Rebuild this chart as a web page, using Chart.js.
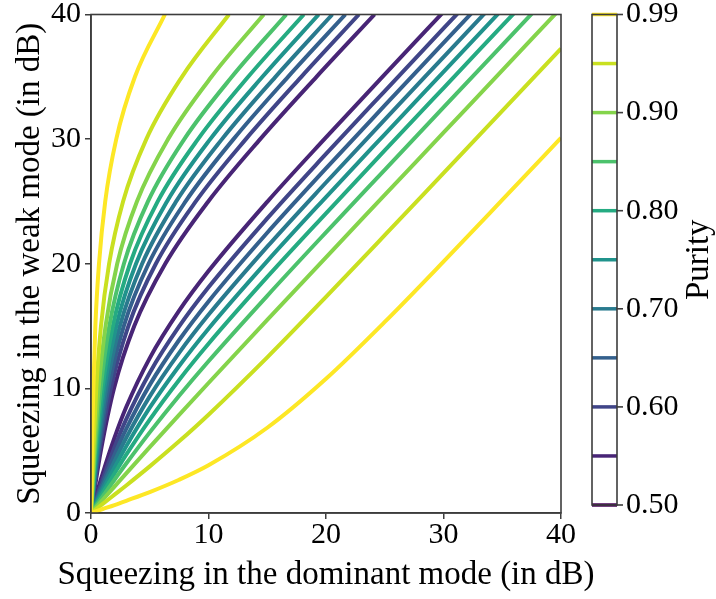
<!DOCTYPE html>
<html>
<head>
<meta charset="utf-8">
<script src="https://cdn.jsdelivr.net/npm/chart.js@4/dist/chart.umd.min.js"></script>
<style>
  html, body { margin: 0; padding: 0; background: #ffffff; }
  #wrap { width: 716px; height: 599px; }
</style>
</head>
<body>
<div id="wrap"><canvas id="chart" width="716" height="599"></canvas></div>
<script>
// Purity contour levels drawn as curves (0.50 is the minimum and has no visible curve)
const purityLevels = [0.55, 0.60, 0.65, 0.70, 0.75, 0.80, 0.85, 0.90, 0.95, 0.99];

// Branch above the diagonal: dominant-mode squeezing (dB) at fixed weak-mode squeezing
const weakSamples = [0, 2, 5, 10, 15, 20, 25, 30, 35, 40];
const upper055 = [0, 0.32, 0.84, 1.96, 3.68, 6.32, 9.98, 14.40, 19.19, 24.13];
const upper060 = [0, 0.28, 0.72, 1.69, 3.18, 5.52, 8.92, 13.18, 17.90, 22.80];
const upper065 = [0, 0.24, 0.63, 1.48, 2.79, 4.90, 8.05, 12.13, 16.77, 21.65];
const upper070 = [0, 0.21, 0.56, 1.30, 2.46, 4.35, 7.25, 11.15, 15.70, 20.54];
const upper075 = [0, 0.19, 0.49, 1.13, 2.15, 3.83, 6.47, 10.15, 14.59, 19.38];
const upper080 = [0, 0.16, 0.42, 0.98, 1.86, 3.32, 5.68, 9.11, 13.38, 18.11];
const upper085 = [0, 0.13, 0.35, 0.82, 1.56, 2.80, 4.85, 7.94, 11.99, 16.62];
const upper090 = [0, 0.11, 0.28, 0.65, 1.24, 2.23, 3.91, 6.56, 10.25, 14.70];
const upper095 = [0, 0.07, 0.19, 0.45, 0.85, 1.54, 2.73, 4.71, 7.74, 11.74];
const upper099 = [0, 0.03, 0.08, 0.20, 0.37, 0.68, 1.21, 2.15, 3.74, 6.29];

// Branch below the diagonal: weak-mode squeezing (dB) at fixed dominant-mode squeezing
const dominantSamples = [0, 1, 2, 3, 5, 7.5, 10, 15, 20, 25, 30, 35, 40];
const lower055 = [0, 3.18, 6.04, 8.50, 12.43, 16.23, 19.41, 24.97, 30.14, 35.20, 40.21];
const lower060 = [0, 2.74, 5.28, 7.53, 11.26, 14.97, 18.11, 23.64, 28.81, 33.86, 38.88, 43.88];
const lower065 = [0, 2.41, 4.68, 6.75, 10.28, 13.88, 16.98, 22.49, 27.65, 32.70, 37.72, 42.72];
const lower070 = [0, 2.12, 4.15, 6.04, 9.36, 12.85, 15.90, 21.37, 26.52, 31.57, 36.58, 41.59];
const lower075 = [0, 1.85, 3.65, 5.36, 8.45, 11.80, 14.79, 20.21, 25.35, 30.39, 35.40, 40.41];
const lower080 = [0, 1.60, 3.17, 4.68, 7.50, 10.68, 13.58, 18.94, 24.05, 29.09, 34.10, 39.10, 44.10];
const lower085 = [0, 1.34, 2.67, 3.97, 6.47, 9.41, 12.18, 17.43, 22.52, 27.54, 32.55, 37.55, 42.55];
const lower090 = [0, 1.06, 2.12, 3.18, 5.28, 7.87, 10.43, 15.49, 20.52, 25.52, 30.52, 35.52, 40.52];
const lower095 = [0, 0.73, 1.47, 2.21, 3.74, 5.75, 7.89, 12.49, 17.34, 22.29, 27.28, 32.27, 37.27];
const lower099 = [0, 0.32, 0.64, 0.98, 1.68, 2.67, 3.83, 6.84, 10.77, 15.33, 20.17, 25.12, 30.10];

// Axis ticks and titles
const axisTicks = [0, 10, 20, 30, 40];
const xTitle = 'Squeezing in the dominant mode (in dB)';
const yTitle = 'Squeezing in the weak mode (in dB)';
const colorbarTitle = 'Purity';

// Colorbar levels and labelled ticks
const colorbarLevels = [0.50, 0.55, 0.60, 0.65, 0.70, 0.75, 0.80, 0.85, 0.90, 0.95, 0.99];
const colorbarTicks = [0.50, 0.60, 0.70, 0.80, 0.90, 0.99];

// Viridis colours, one per colorbar level
const levelColors = ['#440154', '#482576', '#404588', '#34608d', '#297a8e', '#20938c',
                     '#25ab82', '#4cc26c', '#84d44b', '#c9e020', '#fde725'];

const upperBranches = [upper055, upper060, upper065, upper070, upper075,
                       upper080, upper085, upper090, upper095, upper099];
const lowerBranches = [lower055, lower060, lower065, lower070, lower075,
                       lower080, lower085, lower090, lower095, lower099];

const FONT = 'Liberation Serif';
const AXIS_COLOR = '#3d3d3d';

const datasets = [];
purityLevels.forEach((p, i) => {
  const color = levelColors[colorbarLevels.indexOf(p)];
  const common = {
    showLine: true, pointRadius: 0, pointHoverRadius: 0, borderWidth: 4,
    borderColor: color, backgroundColor: color, fill: false,
    cubicInterpolationMode: 'monotone', clip: 0,
    order: purityLevels.length - i
  };
  datasets.push(Object.assign({
    label: 'Purity ' + p.toFixed(2) + ' (upper)',
    data: weakSamples.map((y, k) => ({ x: upperBranches[i][k], y: y }))
  }, common));
  datasets.push(Object.assign({
    label: 'Purity ' + p.toFixed(2) + ' (lower)',
    data: lowerBranches[i].map((y, k) => ({ x: dominantSamples[k], y: y }))
  }, common));
});

// Box around the axes, the x-axis title (drawn at full width) and the contour colorbar
const frameAndColorbar = {
  id: 'frameAndColorbar',
  afterDraw(chart) {
    const { ctx, chartArea: a } = chart;
    ctx.save();
    ctx.strokeStyle = AXIS_COLOR;
    ctx.lineWidth = 1.6;
    ctx.strokeRect(a.left, a.top, a.right - a.left, a.bottom - a.top);

    ctx.fillStyle = '#000';
    ctx.font = '33px "' + FONT + '"';
    ctx.textAlign = 'center';
    ctx.textBaseline = 'middle';
    ctx.fillText(xTitle, (a.left + a.right) / 2, a.bottom + 62);

    const cbL = a.right + 31, cbW = 25, cbT = a.top, cbB = a.bottom - 8;
    const n = colorbarLevels.length - 1;
    const yOf = v => cbB - (cbB - cbT) * colorbarLevels.indexOf(v) / n;

    colorbarLevels.forEach((v, i) => {
      ctx.strokeStyle = levelColors[i];
      ctx.lineWidth = 3.5;
      ctx.beginPath();
      ctx.moveTo(cbL, yOf(v));
      ctx.lineTo(cbL + cbW, yOf(v));
      ctx.stroke();
    });
    ctx.strokeStyle = AXIS_COLOR;
    ctx.lineWidth = 1.6;
    ctx.strokeRect(cbL, cbT, cbW, cbB - cbT);

    ctx.font = '30px "' + FONT + '"';
    ctx.textAlign = 'left';
    colorbarTicks.forEach(v => {
      const y = yOf(v);
      ctx.beginPath();
      ctx.moveTo(cbL + cbW, y);
      ctx.lineTo(cbL + cbW + 6, y);
      ctx.stroke();
      ctx.fillText(v.toFixed(2), cbL + cbW + 9, y);
    });

    ctx.font = '33px "' + FONT + '"';
    ctx.translate(699, (cbT + cbB) / 2);
    ctx.rotate(-Math.PI / 2);
    ctx.textAlign = 'center';
    ctx.fillText(colorbarTitle, 0, 0);
    ctx.restore();
  }
};

Chart.defaults.font.family = FONT;
Chart.defaults.color = '#000';

new Chart(document.getElementById('chart'), {
  type: 'scatter',
  data: { datasets },
  plugins: [frameAndColorbar],
  options: {
    responsive: false,
    animation: false,
    events: [],
    layout: { padding: { left: 0, right: 155, top: 11, bottom: 0 } },
    plugins: { legend: { display: false }, tooltip: { enabled: false } },
    scales: {
      x: {
        type: 'linear', min: 0, max: 40,
        afterBuildTicks: s => { s.ticks = axisTicks.map(v => ({ value: v })); },
        afterFit: s => { s.height = 86; },
        ticks: { font: { size: 30, lineHeight: 1.0 }, padding: 1, color: '#000', maxRotation: 0 },
        grid: { drawOnChartArea: false, drawTicks: true, tickLength: 6, color: AXIS_COLOR, lineWidth: 1.5 },
        border: { display: true, color: AXIS_COLOR, width: 1.6 },
        title: { display: false }
      },
      y: {
        type: 'linear', min: 0, max: 40,
        afterBuildTicks: s => { s.ticks = axisTicks.map(v => ({ value: v })); },
        afterFit: s => { s.width = 91; },
        ticks: { font: { size: 30, lineHeight: 0.7 }, padding: 4, color: '#000' },
        grid: { drawOnChartArea: false, drawTicks: true, tickLength: 6, color: AXIS_COLOR, lineWidth: 1.5 },
        border: { display: true, color: AXIS_COLOR, width: 1.6 },
        title: { display: true, text: yTitle,
                 font: { size: 33 }, color: '#000', padding: { top: 11, bottom: 0 } }
      }
    }
  }
});
</script>
</body>
</html>
